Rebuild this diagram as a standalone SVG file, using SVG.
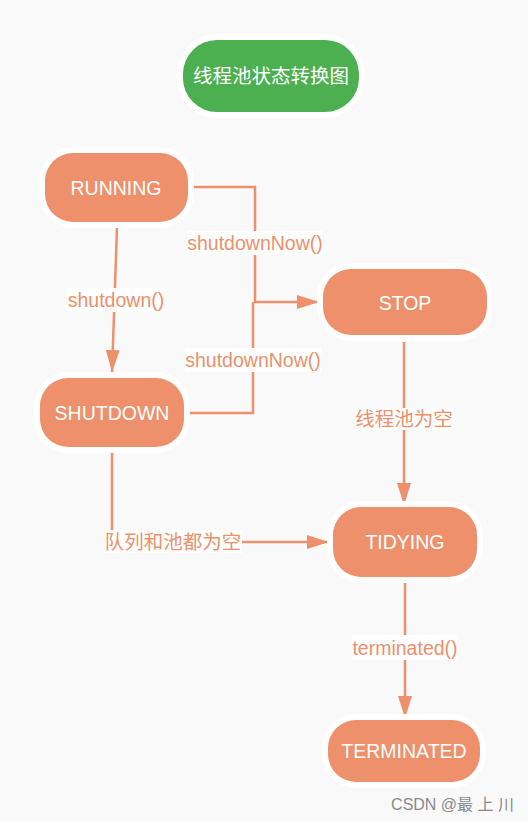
<svg xmlns="http://www.w3.org/2000/svg" width="528" height="822" viewBox="0 0 528 822">
<style>
  .bg{fill:#f9f9f9}
  .halo{fill:#ffffff}
  .node{fill:#ee906b}
  .title{fill:#4caf50}
  .ntext{font-family:"Liberation Sans","Noto Sans CJK SC",sans-serif;font-size:19.5px;fill:#ffffff;text-anchor:middle}
  .edge{fill:none;stroke:#ee906b;stroke-width:2.5}
  .lbg{fill:#ffffff}
  .ltext{font-family:"Liberation Sans","Noto Sans CJK SC",sans-serif;font-size:19.5px;fill:#ee906b;text-anchor:middle}
  .wm{font-family:"Liberation Sans","Noto Sans CJK SC",sans-serif;font-size:16px;fill:#8a8a8a;text-anchor:end}
</style>
<defs>
  <marker id="arr" markerUnits="userSpaceOnUse" markerWidth="24" markerHeight="16" refX="22" refY="7" orient="auto">
    <path d="M0,0 L22,7 L0,14 z" fill="#ee906b"/>
  </marker>
</defs>
<rect class="bg" x="0" y="0" width="528" height="822"/>

<g id="connectors">
  <path class="edge" d="M193,187 H255 V302 H319" marker-end="url(#arr)"/>
  <path class="edge" d="M190,413 H253 V302"/>
  <path class="edge" d="M117,228 L112,372" marker-end="url(#arr)"/>
  <path class="edge" d="M112,453 V542 H329" marker-end="url(#arr)"/>
  <path class="edge" d="M404,342 V505" marker-end="url(#arr)"/>
  <path class="edge" d="M405,583 V718" marker-end="url(#arr)"/>
  <g id="labels">
    <rect class="lbg" x="187" y="231" width="136" height="24"/>
    <text class="ltext" x="255" y="250">shutdownNow()</text>
    <rect class="lbg" x="67" y="288" width="97" height="24"/>
    <text class="ltext" x="116" y="307">shutdown()</text>
    <rect class="lbg" x="185" y="348" width="136" height="24"/>
    <text class="ltext" x="253" y="367">shutdownNow()</text>
    <rect class="lbg" x="356" y="408" width="97" height="22"/>
    <text class="ltext" x="404" y="426">线程池为空</text>
    <rect class="lbg" x="105" y="530" width="137" height="23"/>
    <text class="ltext" x="173" y="549">队列和池都为空</text>
    <rect class="lbg" x="352" y="635" width="105" height="25"/>
    <text class="ltext" x="405" y="655">terminated()</text>
  </g>
</g>

<g id="title">
  <rect class="halo" x="177" y="34" width="188" height="84" rx="40"/>
  <rect class="title" x="183" y="40" width="176" height="72" rx="34"/>
  <text class="ntext" x="271" y="83">线程池状态转换图</text>
</g>

<g id="running">
  <rect class="halo" x="39" y="147" width="155" height="81" rx="34"/>
  <rect class="node" x="45" y="153" width="143" height="69" rx="28"/>
  <text class="ntext" x="116" y="195">RUNNING</text>
</g>

<g id="shutdown">
  <rect class="halo" x="34" y="372" width="156" height="81" rx="34"/>
  <rect class="node" x="40" y="378" width="144" height="69" rx="28"/>
  <text class="ntext" x="112" y="420">SHUTDOWN</text>
</g>

<g id="stop">
  <rect class="halo" x="317" y="263" width="176" height="78" rx="34"/>
  <rect class="node" x="323" y="269" width="164" height="66" rx="28"/>
  <text class="ntext" x="405" y="310">STOP</text>
</g>

<g id="tidying">
  <rect class="halo" x="327" y="501" width="156" height="82" rx="34"/>
  <rect class="node" x="333" y="507" width="144" height="70" rx="28"/>
  <text class="ntext" x="405" y="549">TIDYING</text>
</g>

<g id="terminated">
  <rect class="halo" x="322" y="714" width="164" height="74" rx="34"/>
  <rect class="node" x="328" y="720" width="152" height="62" rx="28"/>
  <text class="ntext" x="404" y="758">TERMINATED</text>
</g>

<text class="wm" x="514" y="810">CSDN @最 上 川</text>
</svg>
